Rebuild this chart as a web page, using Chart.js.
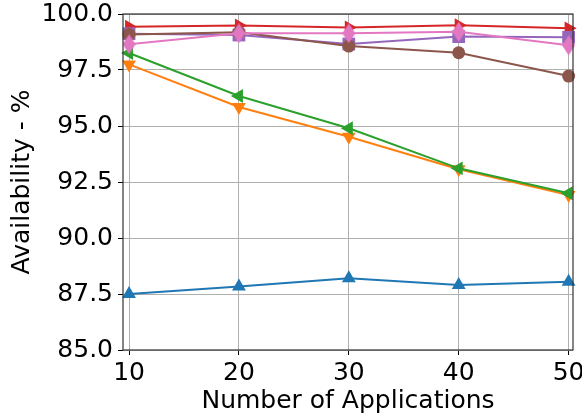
<!DOCTYPE html>
<html>
<head>
<meta charset="utf-8">
<script src="https://cdn.jsdelivr.net/npm/chart.js@4"></script>
<style>
  html, body { margin: 0; padding: 0; background: #fff; }
  #grafico { display: block; }
</style>
</head>
<body>
<canvas id="grafico" width="582" height="416"></canvas>
<script>
// valores
const aplicaciones = [10, 20, 30, 40, 50];
const serieAzul    = [87.50, 87.83, 88.20, 87.90, 88.05];
const serieNaranja = [97.75, 95.85, 94.52, 93.07, 91.92];
const serieVerde   = [98.26, 96.34, 94.90, 93.11, 92.00];
const serieRoja    = [99.43, 99.49, 99.40, 99.50, 99.36];
const serieVioleta = [99.12, 99.06, 98.66, 98.99, 98.96];
const serieMarron  = [99.09, 99.18, 98.57, 98.27, 97.23];
const serieRosa    = [98.65, 99.14, 99.14, 99.21, 98.60];
const ticksY = [85, 87.5, 90, 92.5, 95, 97.5, 100];

const fuente = "'DejaVu Sans', sans-serif";

// marcador diamante fino (como el 'd' de matplotlib)
function diamanteFino(color) {
    const c = document.createElement("canvas");
    c.width = 13;
    c.height = 20;
    const ctx = c.getContext("2d");
    ctx.fillStyle = color;
    ctx.beginPath();
    ctx.moveTo(6.5, 0);
    ctx.lineTo(13, 10);
    ctx.lineTo(6.5, 20);
    ctx.lineTo(0, 10);
    ctx.closePath();
    ctx.fill();
    return c;
}

function serie(datos, color, estilo, rotacion, radio, orden) {
    return {
        data: datos.map((v, i) => ({ x: aplicaciones[i], y: v })),
        borderColor: color,
        backgroundColor: color,
        borderWidth: 2,
        pointStyle: estilo,
        pointRotation: rotacion,
        pointRadius: radio,
        pointBorderWidth: 0,
        pointBackgroundColor: color,
        order: orden
    };
}

// marco completo del area de datos
const marco = {
    id: "marco",
    afterDatasetsDraw(chart) {
        const a = chart.chartArea;
        const ctx = chart.ctx;
        ctx.save();
        ctx.strokeStyle = "#333";
        ctx.lineWidth = 1.2;
        ctx.strokeRect(a.left, a.top, a.right - a.left, a.bottom - a.top);
        ctx.restore();
    }
};

const ctx = document.getElementById("grafico");
new Chart(ctx, {
    type: "line",
    data: {
        datasets: [
            serie(serieAzul, "#1f77b4", "triangle", 0, 8, 7),
            serie(serieNaranja, "#ff7f0e", "triangle", 180, 8, 6),
            serie(serieVerde, "#2ca02c", "triangle", 270, 8, 5),
            serie(serieRoja, "#d62728", "triangle", 90, 8, 4),
            serie(serieVioleta, "#9467bd", "rect", 0, 9, 3),
            serie(serieMarron, "#8c564b", "circle", 0, 6.5, 2),
            serie(serieRosa, "#e377c2", diamanteFino("#e377c2"), 0, 8, 1)
        ]
    },
    options: {
        responsive: false,
        animation: false,
        clip: false,
        layout: { padding: { left: 0, right: 8, top: 14, bottom: 0 } },
        plugins: { legend: { display: false }, tooltip: { enabled: false } },
        scales: {
            x: {
                type: "linear",
                min: 9.45,
                max: 50.4,
                afterBuildTicks(scale) {
                    scale.ticks = aplicaciones.map(v => ({ value: v }));
                },
                afterFit(scale) {
                    scale.height = 66;
                    scale.paddingLeft = 0;
                    scale.paddingRight = 0;
                },
                grid: { color: "#b0b0b0", lineWidth: 1, tickLength: 5, tickColor: "#000" },
                border: { display: false },
                ticks: {
                    color: "#000",
                    padding: 3,
                    maxRotation: 0,
                    font: { family: fuente, size: 25 },
                    callback: v => String(v)
                },
                title: {
                    display: true,
                    text: "Number of Applications",
                    color: "#000",
                    padding: { top: 0, bottom: 0 },
                    font: { family: fuente, size: 25 }
                }
            },
            y: {
                min: 85,
                max: 100,
                afterBuildTicks(scale) {
                    scale.ticks = ticksY.map(v => ({ value: v }));
                },
                afterFit(scale) {
                    scale.width = 123;
                    scale.paddingTop = 0;
                    scale.paddingBottom = 0;
                },
                grid: { color: "#b0b0b0", lineWidth: 1, tickLength: 5, tickColor: "#000" },
                border: { display: false },
                ticks: {
                    color: "#000",
                    padding: 5,
                    font: { family: fuente, size: 25 },
                    callback: v => v.toFixed(1)
                },
                title: {
                    display: true,
                    text: "Availability - %",
                    color: "#000",
                    padding: { top: 7, bottom: 0 },
                    font: { family: fuente, size: 25 }
                }
            }
        }
    },
    plugins: [marco]
});
</script>
</body>
</html>
